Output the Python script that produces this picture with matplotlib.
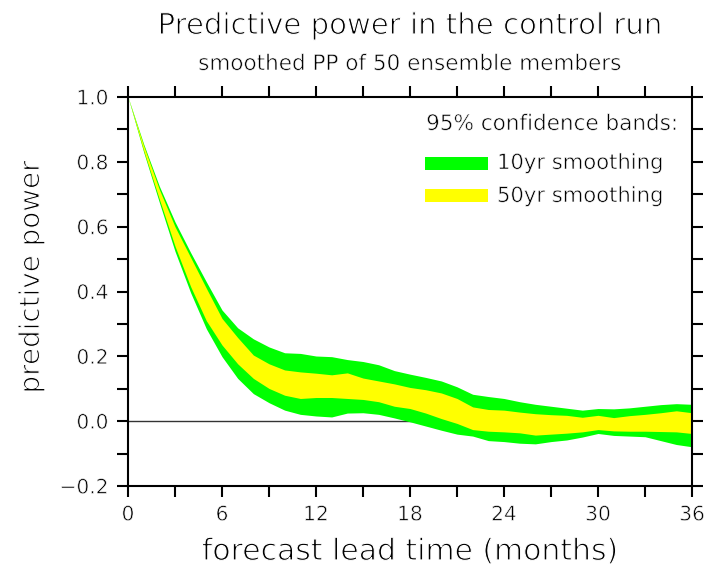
import matplotlib
matplotlib.use("Agg")
import matplotlib.pyplot as plt
import matplotlib.patheffects as pe
from matplotlib.ticker import MultipleLocator, FuncFormatter
from matplotlib.patches import Rectangle

plt.rcParams['font.family'] = ['DejaVu Sans']

# forecast lead time (months)
lead = list(range(37))

# 95% confidence band, 10yr smoothing
green_lo = [1.0, 0.83, 0.675, 0.524, 0.396, 0.285, 0.199, 0.132, 0.085, 0.057,
            0.034, 0.021, 0.016, 0.013, 0.025, 0.026, 0.021, 0.010, -0.002, -0.015,
            -0.028, -0.040, -0.046, -0.060, -0.063, -0.068, -0.070, -0.063, -0.058, -0.049,
            -0.038, -0.044, -0.046, -0.048, -0.060, -0.072, -0.079]
green_hi = [1.0, 0.855, 0.725, 0.615, 0.52, 0.43, 0.343, 0.288, 0.254, 0.229,
            0.211, 0.209, 0.201, 0.199, 0.190, 0.184, 0.174, 0.156, 0.145, 0.135,
            0.124, 0.106, 0.083, 0.076, 0.070, 0.060, 0.052, 0.046, 0.040, 0.034,
            0.039, 0.038, 0.041, 0.046, 0.051, 0.054, 0.052]

# 95% confidence band, 50yr smoothing
yellow_lo = [1.0, 0.835, 0.685, 0.54, 0.415, 0.31, 0.235, 0.177, 0.132, 0.101,
             0.080, 0.070, 0.073, 0.073, 0.070, 0.067, 0.060, 0.046, 0.039, 0.025,
             0.008, -0.007, -0.026, -0.031, -0.033, -0.036, -0.043, -0.040, -0.037, -0.033,
             -0.026, -0.030, -0.031, -0.031, -0.032, -0.033, -0.038]
yellow_hi = [1.0, 0.85, 0.715, 0.60, 0.505, 0.41, 0.317, 0.258, 0.204, 0.177,
             0.158, 0.152, 0.148, 0.143, 0.149, 0.133, 0.124, 0.115, 0.104, 0.097,
             0.087, 0.070, 0.044, 0.036, 0.034, 0.028, 0.023, 0.020, 0.018, 0.012,
             0.018, 0.011, 0.017, 0.021, 0.026, 0.032, 0.026]

legend_labels = ["10yr smoothing", "50yr smoothing"]
band_colors = ["#00ff00", "#ffff00"]

# thin-stroke look for text: a white outline trims the glyph edges
thin = [pe.Stroke(linewidth=0.8, foreground="white")]
thin_small = [pe.Stroke(linewidth=0.45, foreground="white")]
TXT = "#000000"

W, H = 706, 569
fig = plt.figure(figsize=(W / 100, H / 100), dpi=100)
ax = fig.add_axes([128 / W, 1 - 486 / H, (692 - 128) / W, (486 - 97) / H])

ax.fill_between(lead, green_lo, green_hi, color=band_colors[0], lw=0, zorder=2)
ax.fill_between(lead, yellow_lo, yellow_hi, color=band_colors[1], lw=0, zorder=3)
ax.axhline(0, color="#333333", lw=1.0, zorder=1)

ax.set_xlim(0, 36)
ax.set_ylim(-0.2, 1.0)
ax.xaxis.set_major_locator(MultipleLocator(6))
ax.xaxis.set_minor_locator(MultipleLocator(3))
ax.yaxis.set_major_locator(MultipleLocator(0.2))
ax.yaxis.set_minor_locator(MultipleLocator(0.1))
ax.yaxis.set_major_formatter(FuncFormatter(lambda v, p: f"{v:.1f}".replace("-", "\u2212")))
for which in ("major", "minor"):
    ax.tick_params(axis="both", which=which, direction="out", length=8, width=1.5,
                   top=True, right=True, color="black")
ax.tick_params(axis="both", which="major", labelsize=14.5, pad=6, labelcolor=TXT)
for lab in ax.get_xticklabels() + ax.get_yticklabels():
    lab.set_path_effects(thin_small)
for s in ax.spines.values():
    s.set_linewidth(1.5)
    s.set_zorder(5)

ax.set_xlabel("forecast lead time (months)", fontsize=21.5, color=TXT, labelpad=9,
              path_effects=thin)
ax.set_ylabel("predictive power", fontsize=20, color=TXT, path_effects=thin)
ax.yaxis.set_label_coords(-0.147, 0.537)

fig.text(410 / W, 1 - 26 / H, "Predictive power in the control run",
         ha="center", va="center", fontsize=21, color=TXT, path_effects=thin)
fig.text(410 / W, 1 - 64 / H, "smoothed PP of 50 ensemble members",
         ha="center", va="center", fontsize=15.5, color=TXT, path_effects=thin_small)

# legend
fig.text(678 / W, 1 - 124 / H, "95% confidence bands:", ha="right", va="center",
         fontsize=15.5, color=TXT, path_effects=thin_small)
for i, (lab, col) in enumerate(zip(legend_labels, band_colors)):
    yc = 163 + 33 * i
    fig.patches.append(Rectangle((425 / W, 1 - (yc + 6.5) / H), 63 / W, 13 / H,
                                 transform=fig.transFigure, color=col, lw=0))
    fig.text(497 / W, 1 - yc / H, lab, ha="left", va="center",
             fontsize=15.2, color=TXT, path_effects=thin_small)

fig.savefig("out.png", dpi=100)
